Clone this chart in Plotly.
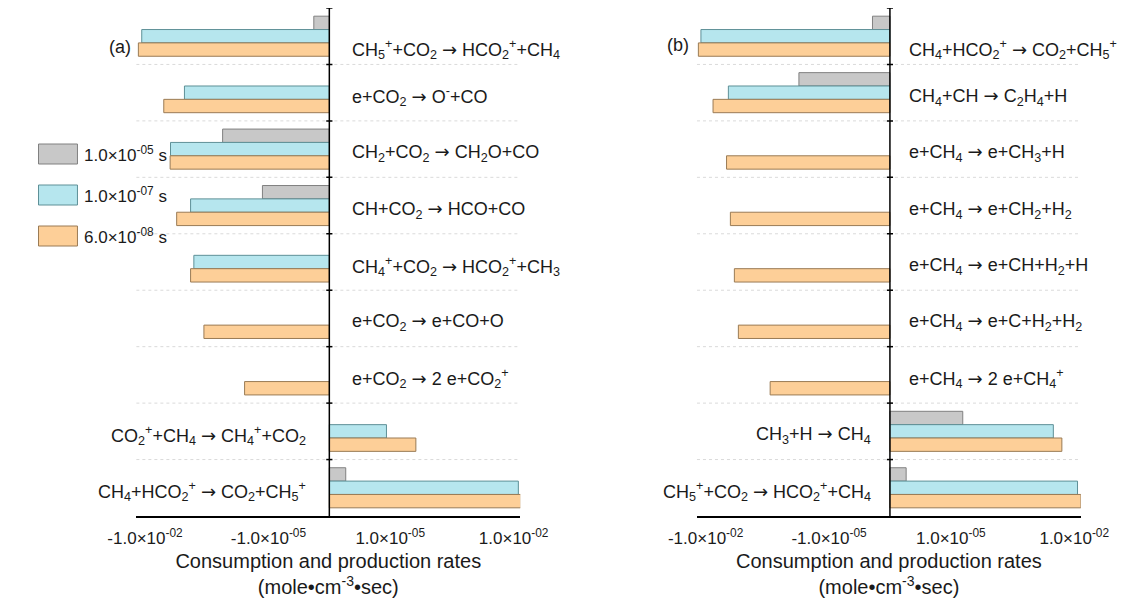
import math
import plotly.graph_objects as go
from plotly.subplots import make_subplots

# ---------------------------------------------------------------- data
ARROW = '<span style="font-family:DejaVu Sans">→</span>'

# Reactions, listed from the top row to the bottom row of each panel
reactions_a = [
    "CH<sub>5</sub><sup>+</sup>+CO<sub>2</sub> {a} HCO<sub>2</sub><sup>+</sup>+CH<sub>4</sub>",
    "e+CO<sub>2</sub> {a} O<sup>-</sup>+CO",
    "CH<sub>2</sub>+CO<sub>2</sub> {a} CH<sub>2</sub>O+CO",
    "CH+CO<sub>2</sub> {a} HCO+CO",
    "CH<sub>4</sub><sup>+</sup>+CO<sub>2</sub> {a} HCO<sub>2</sub><sup>+</sup>+CH<sub>3</sub>",
    "e+CO<sub>2</sub> {a} e+CO+O",
    "e+CO<sub>2</sub> {a} 2 e+CO<sub>2</sub><sup>+</sup>",
    "CO<sub>2</sub><sup>+</sup>+CH<sub>4</sub> {a} CH<sub>4</sub><sup>+</sup>+CO<sub>2</sub>",
    "CH<sub>4</sub>+HCO<sub>2</sub><sup>+</sup> {a} CO<sub>2</sub>+CH<sub>5</sub><sup>+</sup>",
]
reactions_b = [
    "CH<sub>4</sub>+HCO<sub>2</sub><sup>+</sup> {a} CO<sub>2</sub>+CH<sub>5</sub><sup>+</sup>",
    "CH<sub>4</sub>+CH {a} C<sub>2</sub>H<sub>4</sub>+H",
    "e+CH<sub>4</sub> {a} e+CH<sub>3</sub>+H",
    "e+CH<sub>4</sub> {a} e+CH<sub>2</sub>+H<sub>2</sub>",
    "e+CH<sub>4</sub> {a} e+CH+H<sub>2</sub>+H",
    "e+CH<sub>4</sub> {a} e+C+H<sub>2</sub>+H<sub>2</sub>",
    "e+CH<sub>4</sub> {a} 2 e+CH<sub>4</sub><sup>+</sup>",
    "CH<sub>3</sub>+H {a} CH<sub>4</sub>",
    "CH<sub>5</sub><sup>+</sup>+CO<sub>2</sub> {a} HCO<sub>2</sub><sup>+</sup>+CH<sub>4</sub>",
]
reactions_a = [r.format(a=ARROW) for r in reactions_a]
reactions_b = [r.format(a=ARROW) for r in reactions_b]

# Simulation times of the three series
times = ["1.0×10<sup>-05</sup> s", "1.0×10<sup>-07</sup> s", "6.0×10<sup>-08</sup> s"]

# Rates in mole·cm^-3·s (negative = consumption, positive = production)
rate_a_t1 = [-7.9e-7, None, -1.3e-4, -1.4e-5, None, None, None, None, 8.3e-7]
rate_a_t2 = [-1.2e-2, -1.1e-3, -2.4e-3, -7.8e-4, -6.5e-4, None, None, 8.1e-6, 1.3e-2]
rate_a_t3 = [-1.45e-2, -3.5e-3, -2.45e-3, -1.7e-3, -7.8e-4, -3.7e-4, -3.8e-5, 4.2e-5, 1.5e-2]

rate_b_t1 = [-8.8e-7, -5.4e-5, None, None, None, None, None, 1.95e-5, 8.2e-7]
rate_b_t2 = [-1.3e-2, -2.8e-3, None, None, None, None, None, 3.1e-3, 1.2e-2]
rate_b_t3 = [-1.5e-2, -6.6e-3, -3.1e-3, -2.5e-3, -2.0e-3, -1.6e-3, -2.7e-4, 5.0e-3, 1.45e-2]

# Tick values of the rate axis
tick_rates = [-1.0e-2, -1.0e-5, 1.0e-5, 1.0e-2]
tick_labels = ["-1.0×10<sup>-02</sup>", "-1.0×10<sup>-05</sup>",
               "1.0×10<sup>-05</sup>", "1.0×10<sup>-02</sup>"]

# ---------------------------------------------------------------- styling
FILLS = ["#c8c8c8", "#b6e6ee", "#fdcf98"]
EDGES = ["#808080", "#5e9097", "#9a7b55"]
FONT = "Liberation Sans, Arial, sans-serif"
TEXT = "#1a1a1a"

W, H = 1144, 608
PLOT_TOP, PLOT_BOTTOM = 8, 516
LOG_OFFSET = 6.48          # signed-log axis: sign(v) * (log10|v| + LOG_OFFSET)
X_RANGE = [-4.69, 4.64]


def slog(v):
    if v is None:
        return None
    return math.copysign(math.log10(abs(v)) + LOG_OFFSET, v)


def paper(xpx, ypx):
    return xpx / W, (PLOT_BOTTOM - ypx) / (PLOT_BOTTOM - PLOT_TOP)


fig = make_subplots(rows=1, cols=2)

panels = [
    (1, reactions_a, [rate_a_t1, rate_a_t2, rate_a_t3], [113 / W, 517 / W], 21),
    (2, reactions_b, [rate_b_t1, rate_b_t2, rate_b_t3], [703 / W, 1107 / W], 17),
]

shapes = []
annotations = []

for col, cats, series, dom, gap in panels:
    xa = "x" if col == 1 else "x2"
    ya = "y" if col == 1 else "y2"
    for k, rates in enumerate(series):
        fig.add_trace(
            go.Bar(
                x=[slog(v) for v in rates],
                y=cats,
                orientation="h",
                name=times[k],
                customdata=rates,
                hovertemplate="%{customdata:.2e}<extra></extra>",
                marker=dict(color=FILLS[k], line=dict(color=EDGES[k], width=1)),
                showlegend=False,
            ),
            row=1, col=col,
        )

    axis_key = "xaxis" if col == 1 else "xaxis2"
    yaxis_key = "yaxis" if col == 1 else "yaxis2"
    fig.layout[axis_key].update(
        domain=dom, range=X_RANGE, showgrid=False, zeroline=False,
        showline=True, linecolor="black", linewidth=2,
        tickmode="array", tickvals=[slog(v) for v in tick_rates], ticktext=tick_labels,
        ticks="", ticklabelstandoff=6, tickfont=dict(family=FONT, size=17, color=TEXT),
        title=dict(text="Consumption and production rates<br>(mole•cm<sup>-3</sup>•sec)",
                   font=dict(family=FONT, size=20, color=TEXT), standoff=7),
    )
    fig.layout[yaxis_key].update(
        domain=[0, 1], range=[len(cats) - 0.5, -0.5], type="category",
        showgrid=False, zeroline=False, showline=False, showticklabels=False, ticks="",
    )

    # dotted row separators and small ticks on the zero axis
    for i in range(len(cats)):
        yb = i - 0.5
        if i > 0:
            shapes.append(dict(type="line", xref=f"{xa} domain", yref=ya, x0=0, x1=1,
                               y0=yb, y1=yb, layer="below",
                               line=dict(color="#dadada", width=1, dash="dot")))
        shapes.append(dict(type="line", xref=xa, yref=ya, x0=-0.075, x1=0.075,
                           y0=yb, y1=yb, line=dict(color="black", width=1.5)))
    # zero axis
    shapes.append(dict(type="line", xref=xa, yref=f"{ya} domain", x0=0, x1=0, y0=0, y1=1,
                       line=dict(color="black", width=1.5)))

    # reaction labels: beside the zero axis on the side opposite to the bars
    ref = series[-1]
    for i, label in enumerate(cats):
        neg = ref[i] < 0
        annotations.append(dict(
            xref=xa, yref=ya, x=0, y=i, text=label, showarrow=False,
            xanchor="left" if neg else "right", yanchor="middle",
            xshift=gap if neg else -gap, yshift=-13 if i == 0 else -4,
            font=dict(family=FONT, size=18, color=TEXT),
        ))

# panel tags
for tag, (px, py) in [("(a)", (96, 47)), ("(b)", (683, 45))]:
    xp, yp = paper(px, py)
    annotations.append(dict(xref="paper", yref="paper", x=xp, y=yp, text=tag,
                            showarrow=False, xanchor="center", yanchor="middle",
                            font=dict(family=FONT, size=18, color=TEXT)))

# series key
for k, label in enumerate(times):
    top = 144 + 41 * k
    x0, y1 = paper(10, top)
    x1, y0 = paper(51, top + 20)
    shapes.append(dict(type="rect", xref="paper", yref="paper", x0=x0, x1=x1, y0=y0, y1=y1,
                       fillcolor=FILLS[k], line=dict(color=EDGES[k], width=1)))
    xt, yt = paper(56, top + 10)
    annotations.append(dict(xref="paper", yref="paper", x=xt, y=yt, text=label,
                            showarrow=False, xanchor="left", yanchor="middle",
                            font=dict(family=FONT, size=17, color=TEXT)))

fig.update_layout(
    width=W, height=H,
    margin=dict(l=0, r=0, t=PLOT_TOP, b=H - PLOT_BOTTOM),
    barmode="group", bargap=0.29, bargroupgap=0,
    plot_bgcolor="white", paper_bgcolor="white",
    shapes=shapes, annotations=annotations,
    showlegend=False,
    font=dict(family=FONT, color=TEXT),
)

fig.write_html("out.html")
